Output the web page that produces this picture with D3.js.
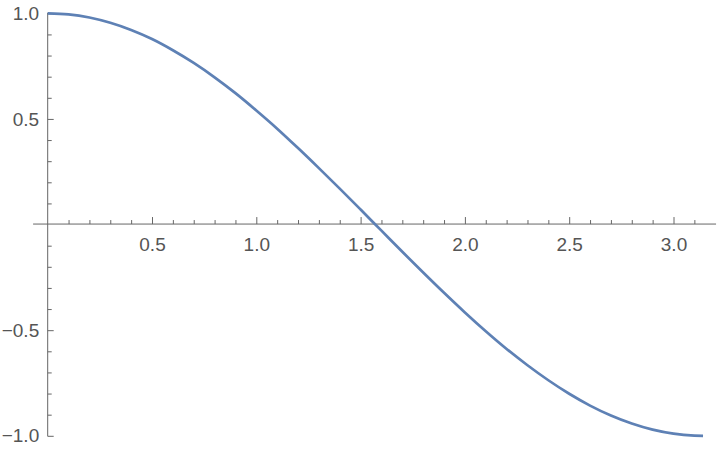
<!DOCTYPE html>
<html><head><meta charset="utf-8">
<script src="https://cdn.jsdelivr.net/npm/d3@7"></script>
<style>
html,body{margin:0;padding:0;background:#fff;}
svg{display:block;}
</style></head>
<body>
<svg id="chart" width="720" height="452"></svg>
<script>
const xValues = [0,0.1,0.2,0.3,0.4,0.5,0.6,0.7,0.8,0.9,1.0,1.1,1.2,1.3,1.4,1.5,1.6,1.7,1.8,1.9,2.0,2.1,2.2,2.3,2.4,2.5,2.6,2.7,2.8,2.9,3.0,3.1,3.1416];
const yValues = [1.000,0.995,0.980,0.955,0.921,0.878,0.825,0.765,0.697,0.622,0.540,0.454,0.362,0.267,0.170,0.071,-0.029,-0.129,-0.227,-0.323,-0.416,-0.505,-0.589,-0.666,-0.737,-0.801,-0.857,-0.904,-0.942,-0.971,-0.990,-0.999,-1.000];
const xMajorTicks = [0.5,1.0,1.5,2.0,2.5,3.0];
const xMinorTicks = [0.1,0.2,0.3,0.4,0.6,0.7,0.8,0.9,1.1,1.2,1.3,1.4,1.6,1.7,1.8,1.9,2.1,2.2,2.3,2.4,2.6,2.7,2.8,2.9,3.1];
const yMajorTicks = [-1.0,-0.5,0.5,1.0];
const yMinorTicks = [-0.9,-0.8,-0.7,-0.6,-0.4,-0.3,-0.2,-0.1,0.1,0.2,0.3,0.4,0.6,0.7,0.8,0.9];

const svg = d3.select("#chart");
const x = d3.scaleLinear().domain([0,3]).range([47.7,673.5]);
const y = d3.scaleLinear().domain([-1,1]).range([435.8,13.3]);
const axisColor = "#666";
const fontFam = "'Liberation Sans', Arial, Helvetica, sans-serif";
const y0 = y(0) - 0.5;
const x0 = x(0);

// axis lines
svg.append("line").attr("x1",x(-0.07)).attr("x2",x(3.204)).attr("y1",y0).attr("y2",y0)
  .attr("stroke",axisColor).attr("stroke-width",1);
svg.append("line").attr("x1",x0).attr("x2",x0).attr("y1",y(1)-0.5).attr("y2",y(-1)+0.5)
  .attr("stroke",axisColor).attr("stroke-width",1);

function styleAxis(g){
  g.select(".domain").remove();
  g.selectAll("line").attr("stroke",axisColor).attr("stroke-width",1);
  g.selectAll("text").attr("fill","#555").style("font-family",fontFam).style("font-size","19px");
}

// x axis ticks (upward)
svg.append("g").attr("transform",`translate(0,${y0})`)
  .call(d3.axisBottom(x).tickValues(xMinorTicks).tickSizeInner(-4).tickSizeOuter(0).tickFormat(""))
  .call(styleAxis);
svg.append("g").attr("transform",`translate(0,${y0})`)
  .call(d3.axisBottom(x).tickValues(xMajorTicks).tickSizeInner(-7).tickSizeOuter(0).tickPadding(13).tickFormat(d3.format(".1f")))
  .call(styleAxis);

// y axis ticks (to the right)
svg.append("g").attr("transform",`translate(${x0},0)`)
  .call(d3.axisLeft(y).tickValues(yMinorTicks).tickSizeInner(-4).tickSizeOuter(0).tickFormat(""))
  .call(styleAxis);
svg.append("g").attr("transform",`translate(${x0},0)`)
  .call(d3.axisLeft(y).tickValues(yMajorTicks).tickSizeInner(-6).tickSizeOuter(0).tickPadding(8.5).tickFormat(d3.format(".1f")))
  .call(styleAxis);

// curve
const pts = xValues.map((v,i)=>[v,yValues[i]]);
const line = d3.line().x(d=>x(d[0])).y(d=>y(d[1])).curve(d3.curveMonotoneX);
svg.append("path").datum(pts).attr("d",line)
  .attr("fill","none").attr("stroke","#5E81B5").attr("stroke-width",2.7);
</script>
</body></html>
